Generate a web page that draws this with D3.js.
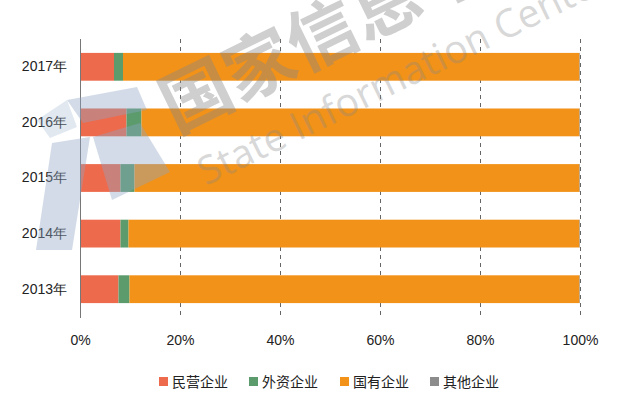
<!DOCTYPE html>
<html><head><meta charset="utf-8">
<script src="https://cdn.jsdelivr.net/npm/d3@7"></script>
<style>body{margin:0;background:#fff;}svg{display:block;font-family:"Noto Sans CJK SC","Noto Sans",sans-serif;}</style>
</head><body><svg id="c" width="631" height="405"></svg>
<script>
const categories = ["2017年","2016年","2015年","2014年","2013年"];
const seriesNames = ["民营企业","外资企业","国有企业","其他企业"];
const privateVals = [6.8, 9.3, 8.1, 8.1, 7.7];
const foreignVals = [1.8, 3.0, 2.8, 1.6, 2.2];
const otherVals = [0.1, 0.1, 0.1, 0.1, 0.1];
const stateVals = [91.3, 87.6, 89.0, 90.2, 90.0];
const xTicks = [0, 20, 40, 60, 80, 100];
const colors = ["#EE6A4C", "#5B9B6C", "#F29218", "#8C8C8C"];

const rows = categories.map((c, i) => ({cat: c, "民营企业": privateVals[i], "外资企业": foreignVals[i], "国有企业": stateVals[i], "其他企业": otherVals[i]}));
const stack = d3.stack().keys(seriesNames).offset(d3.stackOffsetExpand)(rows);

const svg = d3.select("#c");
const x = d3.scaleLinear().domain([0, 1]).range([80, 580]);
const y = d3.scaleBand().domain(categories).range([39, 317]).paddingInner(0.5).paddingOuter(0.25);

// gridlines
svg.append("g").selectAll("line").data(xTicks.slice(1)).join("line")
  .attr("x1", d => Math.round(x(d/100)) + 0.5).attr("x2", d => Math.round(x(d/100)) + 0.5)
  .attr("y1", 39).attr("y2", 318)
  .attr("stroke", "#666").attr("stroke-width", 1).attr("stroke-dasharray", "4,4");

svg.append("g").selectAll("g").data(stack).join("g")
  .attr("fill", (d, i) => colors[i])
  .selectAll("rect").data(d => d).join("rect")
  .attr("x", d => x(d[0])).attr("width", d => x(d[1]) - x(d[0]))
  .attr("y", d => y(d.data.cat)).attr("height", y.bandwidth());

// axis line
svg.append("line").attr("x1", 80.5).attr("x2", 80.5).attr("y1", 39).attr("y2", 318).attr("stroke", "#777");

const xAxis = svg.append("g").attr("transform", "translate(0,320)")
  .call(d3.axisBottom(x).tickValues(xTicks.map(t => t/100)).tickFormat((d, i) => xTicks[i] + "%").tickSize(0).tickPadding(15));
xAxis.select(".domain").remove();
xAxis.selectAll("text").attr("font-size", 14).attr("fill", "#222");

const yAxis = svg.append("g").attr("transform", "translate(67,0)")
  .call(d3.axisLeft(y).tickSize(0).tickPadding(0));
yAxis.select(".domain").remove();
yAxis.selectAll("text").attr("font-size", 14).attr("fill", "#222");

// legend
const legX = [159, 249, 340, 430];
const leg = svg.append("g").selectAll("g").data(seriesNames).join("g")
  .attr("transform", (d, i) => `translate(${legX[i]},382)`);
leg.append("rect").attr("x", 0).attr("y", -5).attr("width", 9).attr("height", 9).attr("fill", (d, i) => colors[i]);
leg.append("text").attr("x", 13).attr("y", 0).attr("dy", "0.35em").attr("font-size", 14).attr("fill", "#222").text(d => d);

// watermark
const wm = svg.append("g").attr("pointer-events", "none");
wm.append("polygon").attr("points", "37,120 67,100 77,127 50,138").attr("fill", "#9db3cc").attr("opacity", 0.3);
wm.append("polygon").attr("points", "67,100 137,87 147,110 83,123").attr("fill", "#8ea6c4").attr("opacity", 0.4);
wm.append("polygon").attr("points", "52,143 90,137 72,250 36,250").attr("fill", "#8ea6c4").attr("opacity", 0.4);
wm.append("polygon").attr("points", "93,137 140,123 170,172 112,200").attr("fill", "#8ea6c4").attr("opacity", 0.4);
wm.append("text").attr("transform", "translate(176,134) rotate(-26)")
  .attr("font-size", 70).attr("font-weight", "bold").attr("fill", "#888").attr("opacity", 0.4).text("国家信息中心");
wm.append("text").attr("transform", "translate(206,186) rotate(-26)")
  .attr("font-family", "'Open Sans', sans-serif")
  .attr("font-size", 39).attr("fill", "#888").attr("opacity", 0.32).text("State Information Center");
</script></body></html>
